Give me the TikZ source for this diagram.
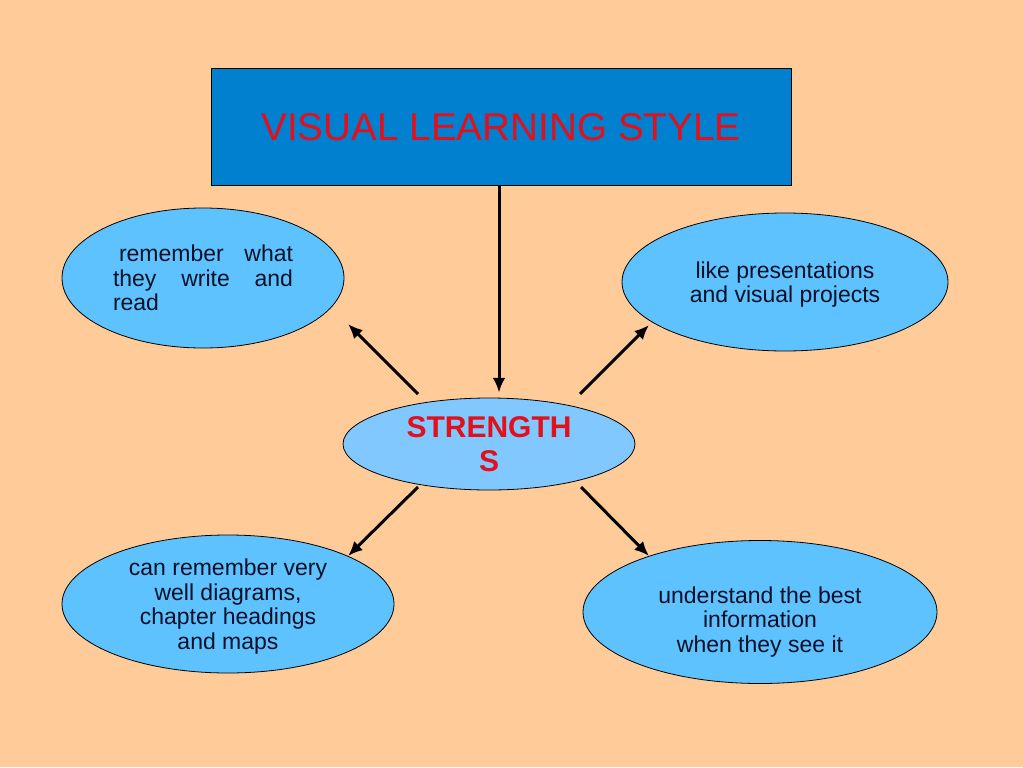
\documentclass[tikz,border=0pt]{standalone}
\usepackage{fontspec}
\setmainfont{Liberation Sans}
\usetikzlibrary{arrows.meta,shapes,positioning}

\definecolor{peach}{RGB}{255,204,153}
\definecolor{titleblue}{RGB}{0,128,206}
\definecolor{bubblefill}{RGB}{94,194,255}
\definecolor{centerfill}{RGB}{128,200,255}
\definecolor{alertred}{RGB}{226,16,26}
\definecolor{ink}{RGB}{8,16,40}

\begin{document}
\begin{tikzpicture}[
        x=0.75pt, y=-0.75pt,
        every node/.style={align=center, text=ink, font=\fontsize{17.25pt}{18.4pt}\selectfont},
        headbox/.style={draw, line width=0.75pt, fill=titleblue, text=alertred,
            minimum width=435pt, minimum height=87pt, font=\fontsize{29pt}{34pt}\selectfont},
        bubble/.style={ellipse, draw, line width=0.6pt, fill=bubblefill, inner sep=0pt},
        link/.style={-{Latex[length=11pt,width=9.5pt]}, line width=2.25pt}
    ]

    % Background
    \fill[peach] (0,0) rectangle (1023,767);

    % Nodes
    \node (title) at (501,127) [headbox] {VISUAL LEARNING STYLE};

    \node (str) at (489,444) [bubble, fill=centerfill, minimum width=219pt, minimum height=69pt,
        text=alertred, font=\bfseries\fontsize{22.5pt}{25.5pt}\selectfont] {STRENGTH\\S};

    \node (write) at (203,278) [bubble, minimum width=211.5pt, minimum height=105pt,
        text width=135pt, align=left] {\hspace*{4.5pt}remember\hfill what\\
        they\hfill write\hfill and\\
        read};
    \node (present) at (785,282) [bubble, minimum width=244.5pt, minimum height=103.5pt,
        label={[yshift=-2pt]center:{like presentations\\ and visual projects}}] {};
    \node (maps) at (228,604) [bubble, minimum width=249pt, minimum height=103.5pt,
        label={[yshift=-2pt]center:{can remember very\\ well diagrams,\\ chapter headings\\ and maps}}] {};
    \node (best) at (760,612) [bubble, minimum width=265.5pt, minimum height=107.25pt,
        label={[yshift=-7.5pt]center:{understand the best\\ information\\ when they see it}}] {};

    % Arrow ends
    \coordinate (str-nw) at (418,394);
    \coordinate (str-ne) at (580,394);
    \coordinate (str-sw) at (418,487);
    \coordinate (str-se) at (581,487);
    \coordinate (write-tip) at (348,324);
    \coordinate (present-tip) at (649,325);
    \coordinate (maps-tip) at (348,556);
    \coordinate (best-tip) at (649,556);

    % Edges
    \draw[link, shorten >=3.75pt] ([xshift=-1.5pt]title.south) -- ([xshift=-1.5pt]title.south |- str.north);
    \draw[link] (str-nw) -- (write-tip);
    \draw[link] (str-ne) -- (present-tip);
    \draw[link] (str-sw) -- (maps-tip);
    \draw[link] (str-se) -- (best-tip);

\end{tikzpicture}
\end{document}
